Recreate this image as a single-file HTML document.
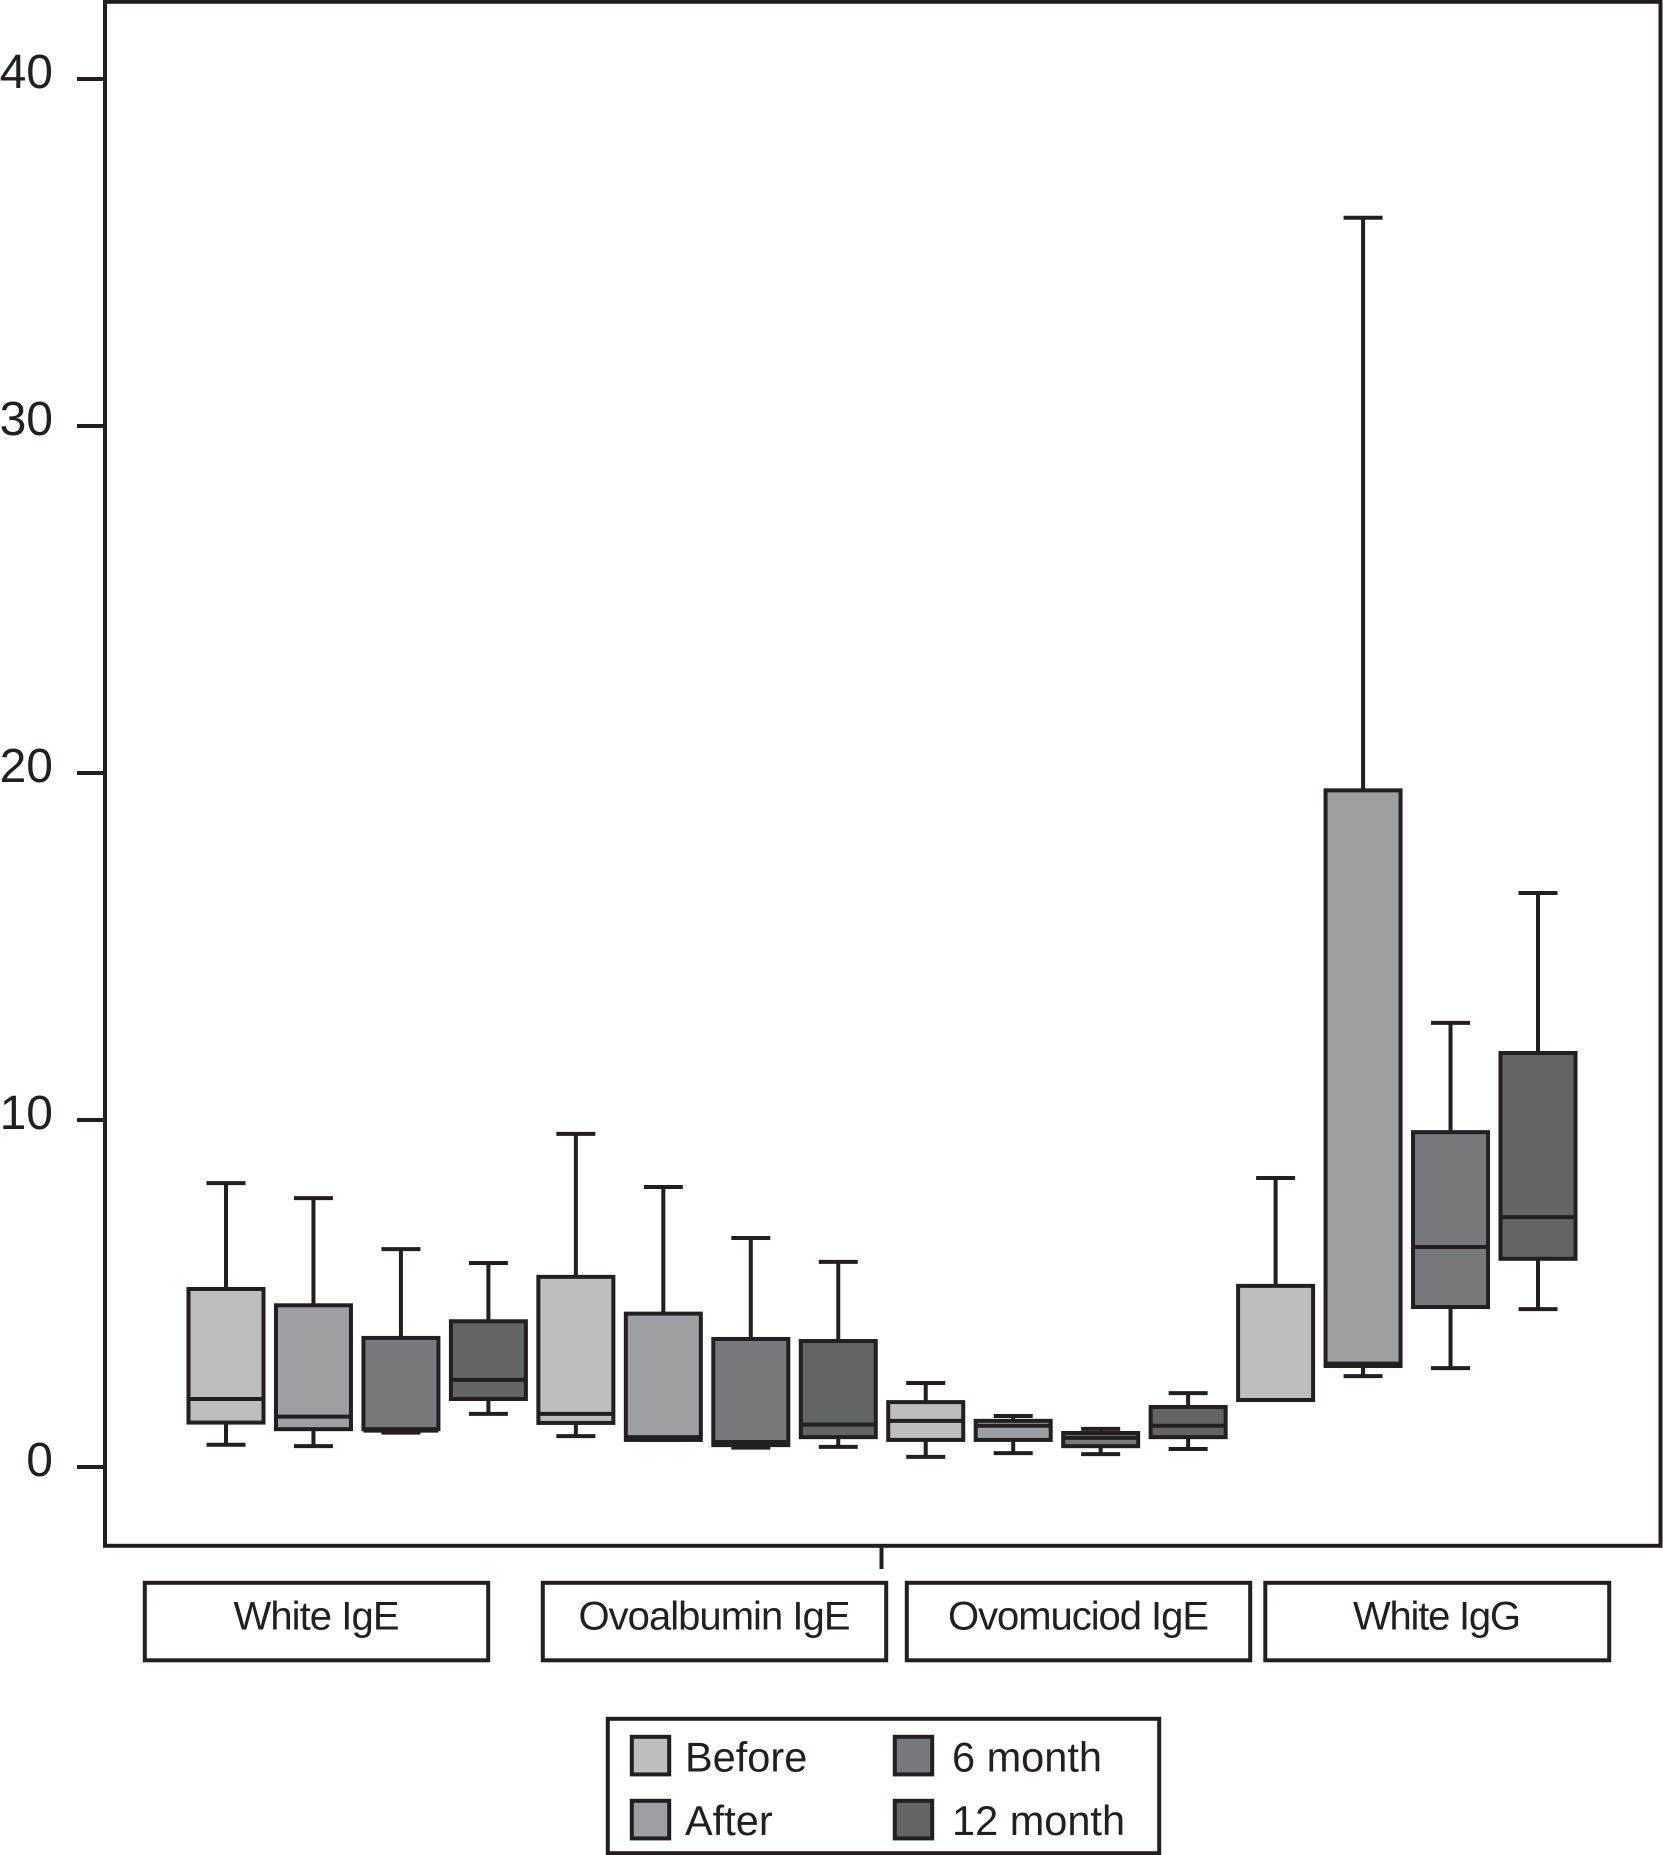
<!DOCTYPE html>
<html lang="en">
<head>
<meta charset="utf-8">
<title>Boxplot of IgE and IgG by timepoint</title>
<style>
  html, body { margin: 0; padding: 0; background: #fff; }
  body { width: 1663px; height: 1855px; overflow: hidden; }
  svg { display: block; }
  text { font-family: "Liberation Sans", sans-serif; fill: #231f20; }
</style>
</head>
<body>
<svg id="chart" xmlns="http://www.w3.org/2000/svg" width="1663" height="1855" viewBox="0 0 1663 1855">
  <rect x="105" y="1.8" width="1555.5" height="1544" fill="#fff" stroke="#231f20" stroke-width="4"/>
  <g id="y-axis"></g>
  <line x1="881.5" y1="1546" x2="881.5" y2="1569" stroke="#231f20" stroke-width="4"/>
  <g id="boxes"></g>

  <g>
    <rect x="144.8" y="1582.8" width="343.4" height="77.5" fill="#fff" stroke="#231f20" stroke-width="4"/>
    <text x="316.5" y="1629.3" font-size="40" text-anchor="middle" textLength="166" lengthAdjust="spacing">White IgE</text>
  </g>
  <g>
    <rect x="542.8" y="1582.8" width="343.4" height="77.5" fill="#fff" stroke="#231f20" stroke-width="4"/>
    <text x="714.5" y="1629.3" font-size="40" text-anchor="middle" textLength="272" lengthAdjust="spacing">Ovoalbumin IgE</text>
  </g>
  <g>
    <rect x="906.8" y="1582.8" width="343.4" height="77.5" fill="#fff" stroke="#231f20" stroke-width="4"/>
    <text x="1078.5" y="1629.3" font-size="40" text-anchor="middle" textLength="261" lengthAdjust="spacing">Ovomuciod IgE</text>
  </g>
  <g>
    <rect x="1265.3" y="1582.8" width="343.9" height="77.5" fill="#fff" stroke="#231f20" stroke-width="4"/>
    <text x="1437" y="1629.3" font-size="40" text-anchor="middle" textLength="168" lengthAdjust="spacing">White IgG</text>
  </g>

  <g>
    <rect x="607.8" y="1718.8" width="551.4" height="134.4" fill="#fff" stroke="#231f20" stroke-width="4"/>
    <g>
      <rect x="631.8" y="1736.8" width="37.4" height="37.6" fill="#bcbec0" stroke="#231f20" stroke-width="4"/>
      <text x="685" y="1771.7" font-size="41.5">Before</text>
    </g>
    <g>
      <rect x="631.8" y="1800.8" width="37.4" height="37.6" fill="#9d9fa2" stroke="#231f20" stroke-width="4"/>
      <text x="685" y="1835" font-size="41.5">After</text>
    </g>
    <g>
      <rect x="894.8" y="1736.8" width="37.4" height="37.6" fill="#77787b" stroke="#231f20" stroke-width="4"/>
      <text x="952" y="1771.7" font-size="41.5">6 month</text>
    </g>
    <g>
      <rect x="894.8" y="1800.8" width="37.4" height="37.6" fill="#636466" stroke="#231f20" stroke-width="4"/>
      <text x="952" y="1835" font-size="41.5">12 month</text>
    </g>
  </g>
</svg>
<script>
var yTickValues = [0, 10, 20, 30, 40];
var boxLabels = [
  "White IgE Before", "White IgE After", "White IgE 6 month", "White IgE 12 month",
  "Ovoalbumin IgE Before", "Ovoalbumin IgE After", "Ovoalbumin IgE 6 month", "Ovoalbumin IgE 12 month",
  "Ovomuciod IgE Before", "Ovomuciod IgE After", "Ovomuciod IgE 6 month", "Ovomuciod IgE 12 month",
  "White IgG Before", "White IgG After", "White IgG 6 month", "White IgG 12 month"
];
var whiskerHigh = [8.18, 7.75, 6.28, 5.88, 9.6, 8.07, 6.6, 5.91, 2.42, 1.47, 1.1, 2.13, 8.33, 36.0, 12.8, 16.54];
var q3Values = [5.13, 4.66, 3.72, 4.2, 5.48, 4.42, 3.69, 3.63, 1.87, 1.33, 0.98, 1.73, 5.22, 19.5, 9.65, 11.93];
var medianValues = [1.96, 1.45, 1.05, 2.51, 1.53, 0.86, 0.72, 1.22, 1.33, 1.19, 0.84, 1.19, 1.93, 2.98, 6.34, 7.2];
var q1Values = [1.28, 1.09, 1.09, 1.96, 1.27, 0.78, 0.63, 0.86, 0.78, 0.78, 0.6, 0.86, 1.93, 2.91, 4.61, 6.0];
var whiskerLow = [0.64, 0.6, 0.99, 1.53, 0.89, 0.78, 0.56, 0.58, 0.29, 0.4, 0.37, 0.52, 1.93, 2.62, 2.85, 4.55];
var timepointFills = ["#bcbec0", "#9d9fa2", "#77787b", "#636466"];

var SVG_NS = "http://www.w3.org/2000/svg";
var INK = "#231f20";
var STROKE = 4;

function yScale(v) { return 1467 - v * 34.7; }
function xScale(i) { return 226 + i * (1538 - 226) / (boxLabels.length - 1); }

function make(tag, attrs, parent) {
  var el = document.createElementNS(SVG_NS, tag);
  for (var k in attrs) { el.setAttribute(k, attrs[k]); }
  parent.appendChild(el);
  return el;
}

var yAxis = document.getElementById("y-axis");
yTickValues.forEach(function (t) {
  var y = yScale(t);
  var tick = make("line", { x1: 77, x2: 105, y1: y, y2: y, stroke: INK, "stroke-width": STROKE }, yAxis);
  
  
  var label = make("text", { x: 53, y: y + 9, "font-size": 48, "text-anchor": "end" }, yAxis);
  label.textContent = String(t);
  
  
});

var boxesLayer = document.getElementById("boxes");
boxLabels.forEach(function (name, i) {
  var cx = xScale(i);
  var half = 37.5;
  var capHalf = 19.5;
  var g = make("g", {}, boxesLayer);
  
  

  var whisker = make("line", { x1: cx, x2: cx, y1: yScale(whiskerHigh[i]), y2: yScale(whiskerLow[i]), stroke: INK, "stroke-width": STROKE }, g);
  
  

  var capTop = make("line", { x1: cx - capHalf, x2: cx + capHalf, y1: yScale(whiskerHigh[i]), y2: yScale(whiskerHigh[i]), stroke: INK, "stroke-width": STROKE }, g);
  
  

  var capBottom = make("line", { x1: cx - capHalf, x2: cx + capHalf, y1: yScale(whiskerLow[i]), y2: yScale(whiskerLow[i]), stroke: INK, "stroke-width": STROKE }, g);
  
  

  var rect = make("rect", {
    x: cx - half,
    y: yScale(q3Values[i]),
    width: half * 2,
    height: yScale(q1Values[i]) - yScale(q3Values[i]),
    fill: timepointFills[i % 4],
    stroke: INK,
    "stroke-width": STROKE
  }, g);
  
  

  var med = make("line", { x1: cx - half, x2: cx + half, y1: yScale(medianValues[i]), y2: yScale(medianValues[i]), stroke: INK, "stroke-width": STROKE }, g);
  
  
});
</script>
</body>
</html>
